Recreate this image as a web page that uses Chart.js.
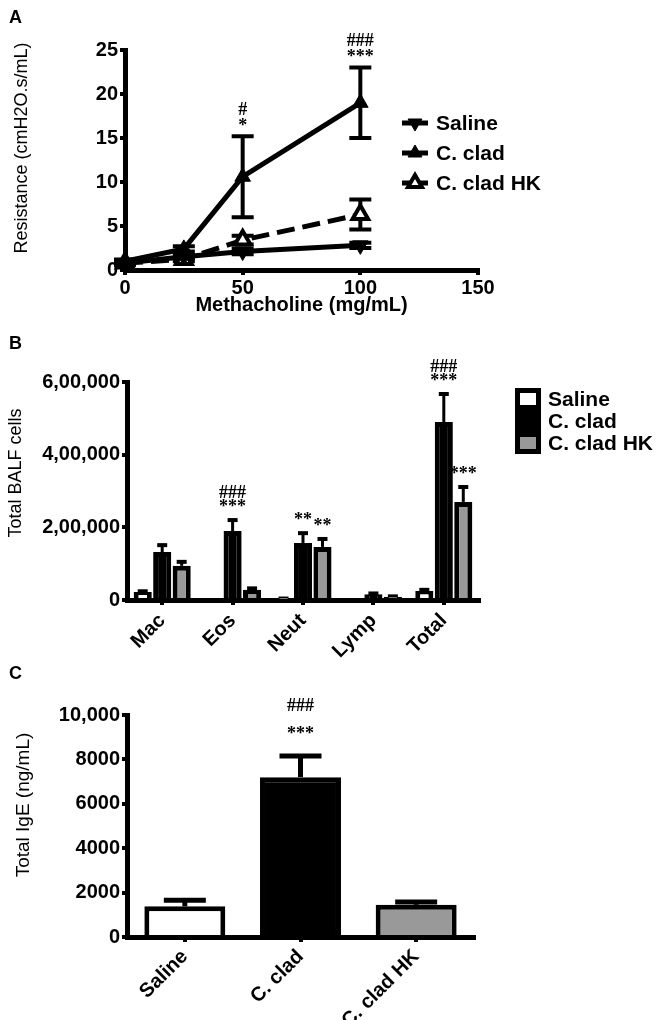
<!DOCTYPE html>
<html>
<head>
<meta charset="utf-8">
<script src="https://cdn.jsdelivr.net/npm/chart.js@4.4.1/dist/chart.umd.min.js"></script>
<style>
  body { margin: 0; background: #fff; }
  #page { position: relative; width: 659px; height: 1020px; }
  canvas { position: absolute; left: 0; }
  .letter { position: absolute; left: 9px; font: bold 18px "Liberation Sans", Arial, sans-serif; line-height: 20px; }
</style>
</head>
<body>
<div id="page">
  <canvas id="resistance" width="659" height="320" style="top:0"></canvas>
  <canvas id="balf" width="659" height="345" style="top:320px"></canvas>
  <canvas id="ige" width="659" height="370" style="top:650px"></canvas>
  <div class="letter" style="top:7px">A</div>
  <div class="letter" style="top:333px">B</div>
  <div class="letter" style="top:663px">C</div>
</div>
<script>
// A: airway resistance vs methacholine dose
const doses = [0, 25, 50, 100];
const salineRes = [0.8, 1.5, 2.1, 2.8];
const salineResErr = [0.2, 0.2, 0.3, 0.3];
const cladRes = [1.0, 2.4, 10.6, 19.0];
const cladResErr = [0.2, 0.3, 4.6, 4.0];
const hkRes = [0.8, 1.2, 3.4, 6.3];
const hkResErr = [0.2, 0.2, 0.5, 1.7];

// B: BALF cell counts
const cellTypes = ['Mac', 'Eos', 'Neut', 'Lymp', 'Total'];
const salineCells = [22000, 0, 3000, 0, 25000];
const salineCellsErr = [2000, 0, 1000, 0, 3000];
const cladCells = [132000, 190000, 157000, 16000, 490000];
const cladCellsErr = [19000, 30000, 27000, 2000, 77000];
const hkCells = [94000, 28000, 146000, 9000, 270000];
const hkCellsErr = [11000, 4000, 22000, 1000, 41000];
const cellTicks = ['0', '2,00,000', '4,00,000', '6,00,000'];

// C: total IgE
const groups = ['Saline', 'C. clad', 'C. clad HK'];
const ige = [1380, 7200, 1450];
const igeErr = [270, 950, 130];
const igeTicks = ['0', '2000', '4000', '6000', '8000', '10,000'];

// significance marks (dataset, point, lines from the bottom up)
const marksA = [{ set: 1, at: 2, text: ['*', '#'] }, { set: 1, at: 3, text: ['***', '###'] }];
const marksB = [
    { set: 1, at: 1, text: ['***', '###'] },
    { set: 1, at: 2, text: ['**'] },
    { set: 2, at: 2, text: ['**'] },
    { set: 1, at: 4, text: ['***', '###'] },
    { set: 2, at: 4, text: ['***'] }
];
const marksC = [{ set: 0, at: 1, text: ['***', '###'] }];

Chart.defaults.font.family = '"Liberation Sans", Arial, sans-serif';
Chart.defaults.color = '#000';

const tickFont = { size: 20, weight: 'bold' };
const axisGrid = { drawOnChartArea: false, color: '#000', lineWidth: 4, tickLength: 5 };
const axisBorder = { color: '#000', width: 5 };

function pointValue(p) {
    return (p !== null && typeof p === 'object') ? p.y : p;
}

function errorBars(style) {
    return {
        id: 'errorBars',
        beforeDatasetsDraw(chart) {
            const ctx = chart.ctx;
            const y = chart.scales.y;
            ctx.save();
            ctx.strokeStyle = '#000';
            chart.data.datasets.forEach((ds, di) => {
                if (!ds.errors) return;
                chart.getDatasetMeta(di).data.forEach((el, i) => {
                    const err = ds.errors[i];
                    if (!err) return;
                    const v = pointValue(ds.data[i]);
                    const top = y.getPixelForValue(v + err);
                    const bottom = style.both ? y.getPixelForValue(v - err) : el.y;
                    ctx.lineWidth = style.width;
                    ctx.beginPath();
                    ctx.moveTo(el.x, bottom);
                    ctx.lineTo(el.x, top);
                    ctx.stroke();
                    ctx.lineWidth = style.capWidth;
                    ctx.beginPath();
                    ctx.moveTo(el.x - style.cap / 2, top);
                    ctx.lineTo(el.x + style.cap / 2, top);
                    if (style.both) {
                        ctx.moveTo(el.x - style.cap / 2, bottom);
                        ctx.lineTo(el.x + style.cap / 2, bottom);
                    }
                    ctx.stroke();
                });
            });
            ctx.restore();
        }
    };
}

function sigMarks(marks, style) {
    return {
        id: 'sigMarks',
        afterDatasetsDraw(chart) {
            const ctx = chart.ctx;
            const y = chart.scales.y;
            ctx.save();
            ctx.font = 'bold 18px "Liberation Serif", "Times New Roman", serif';
            ctx.textAlign = 'center';
            ctx.textBaseline = 'middle';
            ctx.fillStyle = '#000';
            marks.forEach(m => {
                const ds = chart.data.datasets[m.set];
                const el = chart.getDatasetMeta(m.set).data[m.at];
                const err = ds.errors ? ds.errors[m.at] : 0;
                const top = y.getPixelForValue(pointValue(ds.data[m.at]) + err);
                m.text.forEach((t, k) => ctx.fillText(t, el.x, top - style.gap - k * style.step));
            });
            ctx.restore();
        }
    };
}

// y axis title, set a little above the middle of the axis as in the figure
function yTitle(text, style) {
    return {
        id: 'yTitle',
        afterDraw(chart) {
            const ctx = chart.ctx;
            const area = chart.chartArea;
            ctx.save();
            ctx.translate(style.x, (area.top + area.bottom) / 2 - style.lift);
            ctx.rotate(-Math.PI / 2);
            ctx.font = style.size + 'px "Liberation Sans", Arial, sans-serif';
            ctx.textAlign = 'center';
            ctx.textBaseline = 'middle';
            ctx.fillStyle = '#000';
            ctx.fillText(text, 0, 0);
            ctx.restore();
        }
    };
}

function triangle(ctx, x, y, r, down) {
    const s = down ? -1 : 1;
    ctx.beginPath();
    ctx.moveTo(x, y - s * r);
    ctx.lineTo(x + r * 0.866, y + s * r * 0.5);
    ctx.lineTo(x - r * 0.866, y + s * r * 0.5);
    ctx.closePath();
}

function lineLegend(pos) {
    return {
        id: 'lineLegend',
        afterDraw(chart) {
            const ctx = chart.ctx;
            ctx.save();
            ctx.font = 'bold 21px "Liberation Sans", Arial, sans-serif';
            ctx.textBaseline = 'middle';
            chart.data.datasets.forEach((ds, i) => {
                const cy = pos.top + i * pos.row;
                ctx.strokeStyle = '#000';
                ctx.lineWidth = 5;
                ctx.beginPath();
                ctx.moveTo(pos.left, cy);
                ctx.lineTo(pos.left + 26, cy);
                ctx.stroke();
                triangle(ctx, pos.left + 13, cy, 8, ds.pointRotation === 180);
                ctx.fillStyle = ds.pointBackgroundColor;
                ctx.fill();
                ctx.lineWidth = ds.pointBorderWidth;
                ctx.stroke();
                ctx.fillStyle = '#000';
                ctx.fillText(ds.label, pos.left + 34, cy + 1);
            });
            ctx.restore();
        }
    };
}

function boxLegend(pos) {
    return {
        id: 'boxLegend',
        afterDraw(chart) {
            const ctx = chart.ctx;
            ctx.save();
            ctx.font = 'bold 21px "Liberation Sans", Arial, sans-serif';
            ctx.textBaseline = 'middle';
            chart.data.datasets.forEach((ds, i) => {
                const top = pos.top + i * pos.row;
                ctx.fillStyle = ds.backgroundColor;
                ctx.fillRect(pos.left, top, 26, pos.row);
                ctx.strokeStyle = '#000';
                ctx.lineWidth = 5;
                ctx.strokeRect(pos.left + 2.5, top + 2.5, 21, pos.row - 5);
                ctx.fillStyle = '#000';
                ctx.fillText(ds.label, pos.left + 33, top + pos.row / 2 + 1);
            });
            ctx.restore();
        }
    };
}

function lineSet(label, values, errors, fill, rotation, dash) {
    return {
        label: label,
        data: doses.map((d, i) => ({ x: d, y: values[i] })),
        errors: errors,
        borderColor: '#000',
        borderWidth: 5,
        borderDash: dash,
        pointStyle: 'triangle',
        pointRotation: rotation,
        pointRadius: 9,
        pointBackgroundColor: fill,
        pointBorderColor: '#000',
        pointBorderWidth: fill === '#fff' ? 4 : 1,
        clip: false
    };
}

new Chart(document.getElementById('resistance'), {
    type: 'line',
    data: {
        datasets: [
            lineSet('Saline', salineRes, salineResErr, '#000', 180, []),
            lineSet('C. clad', cladRes, cladResErr, '#000', 0, []),
            lineSet('C. clad HK', hkRes, hkResErr, '#fff', 0, [18, 8])
        ]
    },
    options: {
        responsive: false,
        animation: false,
        layout: { padding: { top: 50, right: 181, left: 0, bottom: 0 } },
        plugins: { legend: { display: false }, tooltip: { enabled: false } },
        scales: {
            x: {
                type: 'linear', min: 0, max: 150,
                ticks: { stepSize: 50, font: tickFont, padding: 1 },
                grid: axisGrid, border: axisBorder,
                title: { display: true, text: 'Methacholine (mg/mL)', font: { size: 20, weight: 'bold' }, padding: { top: 0, bottom: 3 } },
                afterFit: s => { s.height = 50; }
            },
            y: {
                min: 0, max: 25,
                ticks: { stepSize: 5, font: tickFont, padding: 2 },
                grid: axisGrid, border: axisBorder,
                afterFit: s => { s.width = 125; }
            }
        }
    },
    plugins: [
        errorBars({ both: true, width: 4, cap: 22, capWidth: 4 }),
        sigMarks(marksA, { gap: 10, step: 16 }),
        lineLegend({ left: 402, top: 123, row: 30 }),
        yTitle('Resistance (cmH2O.s/mL)', { x: 22, lift: 12, size: 18 })
    ]
});

function barSet(label, values, errors, fill) {
    return {
        label: label,
        data: values,
        errors: errors,
        backgroundColor: fill,
        borderColor: '#000',
        borderWidth: 5,
        categoryPercentage: 0.83,
        barPercentage: 0.93
    };
}

new Chart(document.getElementById('balf'), {
    type: 'bar',
    data: {
        labels: cellTypes,
        datasets: [
            barSet('Saline', salineCells, salineCellsErr, '#fff'),
            barSet('C. clad', cladCells, cladCellsErr, '#000'),
            barSet('C. clad HK', hkCells, hkCellsErr, '#999')
        ]
    },
    options: {
        responsive: false,
        animation: false,
        layout: { padding: { top: 62, right: 180, left: 0, bottom: 0 } },
        plugins: { legend: { display: false }, tooltip: { enabled: false } },
        scales: {
            x: {
                ticks: { font: tickFont, minRotation: 45, maxRotation: 45, padding: 4 },
                grid: Object.assign({ offset: false }, axisGrid), border: axisBorder,
                afterFit: s => { s.height = 65; }
            },
            y: {
                min: 0, max: 600000,
                ticks: { stepSize: 200000, font: tickFont, padding: 2, callback: (v, i) => cellTicks[i] },
                grid: axisGrid, border: axisBorder,
                afterFit: s => { s.width = 127; }
            }
        }
    },
    plugins: [
        errorBars({ both: false, width: 3, cap: 10, capWidth: 4 }),
        sigMarks(marksB, { gap: 13, step: 14 }),
        boxLegend({ left: 515, top: 68, row: 22 }),
        yTitle('Total BALF cells', { x: 16, lift: 18, size: 18 })
    ]
});

new Chart(document.getElementById('ige'), {
    type: 'bar',
    data: {
        labels: groups,
        datasets: [{
            label: 'Total IgE',
            data: ige,
            errors: igeErr,
            backgroundColor: ['#fff', '#000', '#999'],
            borderColor: '#000',
            borderWidth: 5,
            categoryPercentage: 1,
            barPercentage: 0.7
        }]
    },
    options: {
        responsive: false,
        animation: false,
        layout: { padding: { top: 65, right: 185, left: 0, bottom: 0 } },
        plugins: { legend: { display: false }, tooltip: { enabled: false } },
        scales: {
            x: {
                ticks: { font: tickFont, minRotation: 45, maxRotation: 45, padding: 3 },
                grid: Object.assign({ offset: false }, axisGrid), border: axisBorder,
                afterFit: s => { s.height = 83; }
            },
            y: {
                min: 0, max: 10000,
                ticks: { stepSize: 2000, font: tickFont, padding: 2, callback: (v, i) => igeTicks[i] },
                grid: axisGrid, border: axisBorder,
                afterFit: s => { s.width = 127; }
            }
        }
    },
    plugins: [
        errorBars({ both: false, width: 5, cap: 42, capWidth: 5 }),
        sigMarks(marksC, { gap: 22, step: 28 }),
        yTitle('Total IgE (ng/mL)', { x: 24, lift: 21, size: 19 })
    ]
});
</script>
</body>
</html>
